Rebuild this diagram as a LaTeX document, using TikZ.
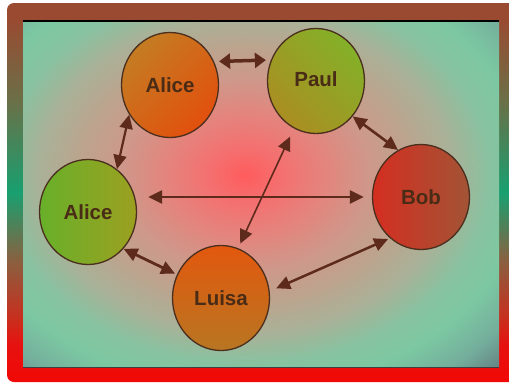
\documentclass[tikz,border=0pt]{standalone}
\usepackage{fontspec}
\newfontfamily\namefont{Liberation Sans}
\usetikzlibrary{arrows.meta,shapes.geometric}

\definecolor{linkink}{HTML}{5E2A1C}
\definecolor{nodeink}{HTML}{4A2E1E}
\definecolor{nametext}{HTML}{4A2C16}
% node fills
\definecolor{aliceA}{HTML}{C47C22}
\definecolor{aliceB}{HTML}{E2500E}
\definecolor{paulA}{HTML}{84B028}
\definecolor{paulB}{HTML}{AA8E22}
\definecolor{greenA}{HTML}{68B02A}
\definecolor{greenB}{HTML}{9CA020}
\definecolor{bobA}{HTML}{D42E20}
\definecolor{bobB}{HTML}{A25436}
\definecolor{luisaA}{HTML}{E2580E}
\definecolor{luisaB}{HTML}{B87622}
% frame colours, bottom to top
\definecolor{frameA}{HTML}{F20806}
\definecolor{frameB}{HTML}{E61210}
\definecolor{frameC}{HTML}{CC2C1C}
\definecolor{frameD}{HTML}{8A6040}
\definecolor{frameE}{HTML}{18A070}
\definecolor{frameF}{HTML}{6A7048}
\definecolor{frameG}{HTML}{9A4A30}
% panel glow, centre outwards
\definecolor{glowA}{HTML}{FF5C5C}
\definecolor{glowB}{HTML}{F47070}
\definecolor{glowC}{HTML}{E2867E}
\definecolor{glowD}{HTML}{CE988A}
\definecolor{glowE}{HTML}{BCA48E}
\definecolor{glowF}{HTML}{A8B298}
\definecolor{glowG}{HTML}{88C2A0}
\definecolor{glowH}{HTML}{7CC8A2}
\definecolor{glowI}{HTML}{74AE9C}
\definecolor{glowJ}{HTML}{627A7E}
\definecolor{glowK}{HTML}{586A72}

\pgfdeclareverticalshading{framefade}{100bp}{%
  color(0bp)=(frameA); color(25bp)=(frameA); color(30bp)=(frameB);
  color(33bp)=(frameC); color(41bp)=(frameD); color(50bp)=(frameE);
  color(62bp)=(frameF); color(73bp)=(frameG); color(100bp)=(frameG)}

\pgfdeclareradialshading{panelglow}{\pgfpoint{0bp}{0bp}}{%
  color(0bp)=(glowA); color(3.5bp)=(glowB); color(8bp)=(glowC);
  color(12bp)=(glowD); color(16bp)=(glowE); color(20bp)=(glowF);
  color(23.5bp)=(glowG); color(27bp)=(glowH); color(31bp)=(glowI);
  color(35bp)=(glowJ); color(50bp)=(glowK)}

\begin{document}
\begin{tikzpicture}[x=1pt, y=-1pt, >={Triangle[length=14pt,width=13pt]},
  person/.style={ellipse, draw=nodeink, line width=1.3pt, minimum width=97pt,
                 minimum height=105pt, inner sep=0pt, text=nametext,
                 font=\namefont\fontsize{20.5}{24}\selectfont\bfseries},
  link/.style={<->, draw=linkink, line width=2.5pt}]
\useasboundingbox (0,0) rectangle (509,383);
\begin{scope}
  \clip (0,0) rectangle (509,383);
  \shade[shading=framefade, rounded corners=7pt] (7,3) rectangle (530,382);
\end{scope}
\begin{scope}
  \clip (23,21) rectangle (499,367);
  \shade[shading=panelglow] (-15,-25) rectangle (505,375);
\end{scope}
\draw[line width=1.6pt] (23,21) -- (499,21);
\draw[black!75, line width=0.8pt] (23,367) -- (499,367);

\node[person, top color=aliceA, bottom color=aliceB, shading angle=45]
  (alicetop) at (170,85) {Alice};
\node[person, top color=paulA, bottom color=paulB, shading angle=-45]
  (paul) at (316,81) {\raisebox{4pt}{Paul}};
\node[person, left color=greenA, right color=greenB]
  (aliceleft) at (88,212) {Alice};
\node[person, left color=bobA, right color=bobB]
  (bob) at (421,197) {Bob};
\node[person, top color=luisaA, bottom color=luisaB]
  (luisa) at (221,298) {Luisa};

\draw[link, line width=3.5pt, >={Triangle[length=11pt,width=15pt]},
      shorten <=5pt, shorten >=5pt] (alicetop.28) -- (paul.155);
\draw[link, line width=2.2pt] (alicetop.216) -- (aliceleft.56);
\draw[link, line width=2.8pt, shorten <=11pt, shorten >=8pt] (aliceleft.east |- bob.west) -- (bob.west);
\draw[link, line width=1.6pt, shorten <=9pt, shorten >=5pt] (paul.245) -- (luisa.71);
\draw[link, line width=2.6pt] (paul.-44) -- (bob.116);
\draw[link, line width=2.8pt, shorten >=2pt] (aliceleft.-46) -- (luisa.152);
\draw[link, shorten <=7pt, shorten >=2pt] (luisa.8) -- (bob.233);
\end{tikzpicture}
\end{document}
